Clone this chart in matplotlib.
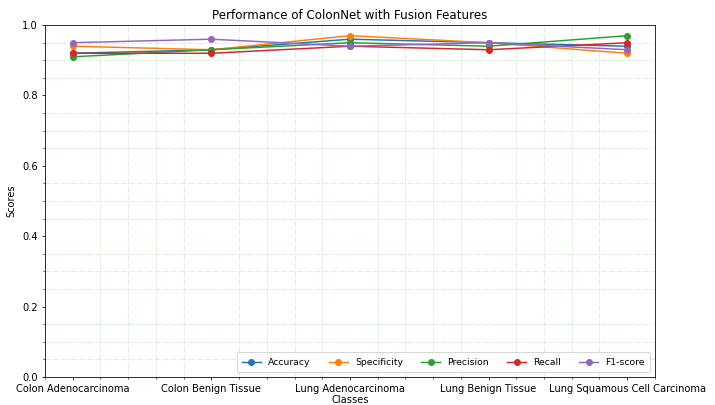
import numpy as np
import matplotlib.pyplot as plt
from matplotlib.ticker import MultipleLocator

classes = ['Colon Adenocarcinoma', 'Colon Benign Tissue', 'Lung Adenocarcinoma',
           'Lung Benign Tissue', 'Lung Squamous Cell Carcinoma']
accuracy = [0.92, 0.93, 0.96, 0.95, 0.94]
specificity = [0.94, 0.93, 0.97, 0.95, 0.92]
precision = [0.91, 0.93, 0.95, 0.94, 0.97]
recall = [0.92, 0.92, 0.94, 0.93, 0.95]
f1_score = [0.95, 0.96, 0.94, 0.95, 0.93]

x = np.arange(len(classes))

fig = plt.figure(figsize=(10, 405 / 71.5), dpi=71.5)
ax = fig.add_axes([0.063, 0.069, 0.853, 0.869])

ax.plot(x, accuracy, marker='o', label='Accuracy')
ax.plot(x, specificity, marker='o', label='Specificity')
ax.plot(x, precision, marker='o', label='Precision')
ax.plot(x, recall, marker='o', label='Recall')
ax.plot(x, f1_score, marker='o', label='F1-score')

ax.set_xticks(x)
ax.set_xticklabels(classes)
ax.xaxis.set_minor_locator(MultipleLocator(0.2))
ax.yaxis.set_minor_locator(MultipleLocator(0.05))
ax.set_ylim(0, 1)
ax.grid(True, which='minor', linestyle='-.', color='#2ca02c', alpha=0.2)

ax.set_title('Performance of ColonNet with Fusion Features')
ax.set_xlabel('Classes', labelpad=1)
ax.set_ylabel('Scores', labelpad=6)
ax.legend(loc='lower right', ncol=5, fontsize=9.3, borderpad=0.6)

fig.savefig('out.png', dpi=71.5)
